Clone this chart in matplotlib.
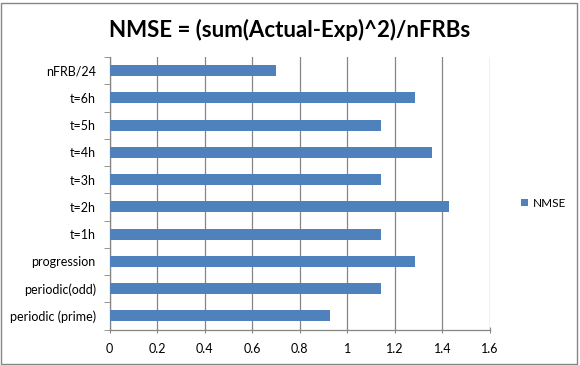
import matplotlib
matplotlib.use("Agg")
import matplotlib.pyplot as plt
from matplotlib.patches import Rectangle
import numpy as np

categories = ["periodic (prime)", "periodic(odd)", "progression", "t=1h", "t=2h",
              "t=3h", "t=4h", "t=5h", "t=6h", "nFRB/24"]
nmse = [0.926, 1.143, 1.285, 1.143, 1.428, 1.143, 1.356, 1.143, 1.285, 0.70]
xticks = [0, 0.2, 0.4, 0.6, 0.8, 1, 1.2, 1.4, 1.6]
xtick_labels = ["0", "0.2", "0.4", "0.6", "0.8", "1", "1.2", "1.4", "1.6"]

plt.rcParams['font.family'] = ['Lato', 'DejaVu Sans']
W, H = 580, 365
fig = plt.figure(figsize=(W / 100, H / 100), dpi=100)
ax = fig.add_axes([109.7 / W, 1 - 329.5 / H, (490 - 109.7) / W, (329.5 - 57) / H])

y = np.arange(len(categories))
ax.barh(y, nmse, height=0.41, color="#4F81BD", label="NMSE", zorder=3)
ax.set_xlim(0, 1.6)
ax.set_ylim(-0.5, len(categories) - 0.5)
ax.set_xticks(xticks)
ax.set_xticklabels(xtick_labels, fontsize=9)
ax.set_yticks(y)
ax.set_yticklabels(categories, fontsize=9)
ax.tick_params(axis='y', length=0, pad=10)
ax.set_yticks(np.arange(-0.5, len(categories), 1), minor=True)
ax.tick_params(axis='y', which='minor', length=4, color="#868686", direction='out')
ax.tick_params(axis='x', length=4, color="#868686", direction='inout', pad=8)
ax.grid(axis='x', color="#868686", linewidth=0.9, zorder=0)
for s in ['top', 'right']:
    ax.spines[s].set_visible(False)
for s in ['left', 'bottom']:
    ax.spines[s].set_color("#868686")
    ax.spines[s].set_linewidth(0.9)

fig.text(0.5, 1 - 30 / H, "NMSE = (sum(Actual-Exp)^2)/nFRBs", ha='center', va='center',
         fontsize=16, fontweight='bold')
fig.legend(loc='center left', bbox_to_anchor=(510 / W, 1 - 203 / H), frameon=False,
           fontsize=8.5, handlelength=0.6, handleheight=0.6, handletextpad=0.4)

fig.patches.append(Rectangle((1 / W, 1 / H), (W - 4) / W, (H - 4) / H, transform=fig.transFigure,
                             fill=False, edgecolor="#868686", linewidth=1))
fig.savefig("out.png", dpi=100, facecolor="white")
